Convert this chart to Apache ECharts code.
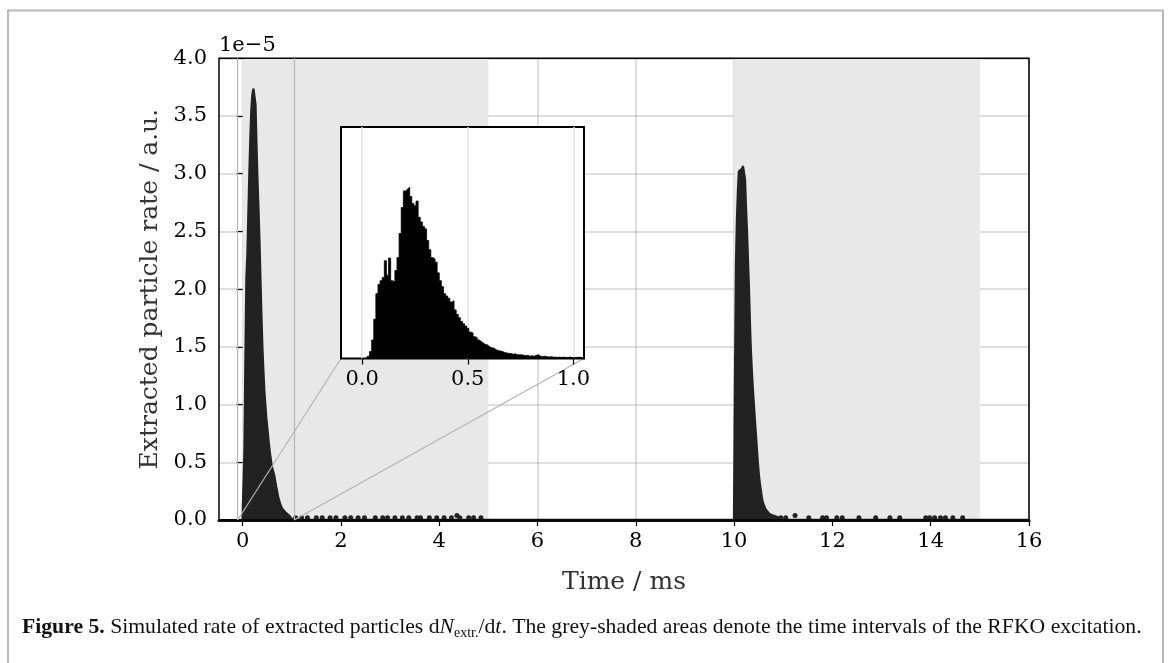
<!DOCTYPE html>
<html>
<head>
<meta charset="utf-8">
<script src="https://cdn.jsdelivr.net/npm/echarts@6/dist/echarts.min.js"></script>
<style>
html,body{margin:0;padding:0;background:#fff;}
#chart{width:1168px;height:663px;}
</style>
</head>
<body>
<div id="chart"></div>
<script>
// ---------------- DATA (rates in units of 1e-5, a.u.) ----------------
const xTickLabels = [0, 2, 4, 6, 8, 10, 12, 14, 16];
const yTickLabels = [0.0, 0.5, 1.0, 1.5, 2.0, 2.5, 3.0, 3.5, 4.0];
const insetTickLabels = [0.0, 0.5, 1.0];

// RFKO excitation intervals (ms)
const excitationStart = [0, 10];
const excitationEnd = [5, 15];

// first extraction pulse, main panel, bins of 0.02 ms starting at 0 ms
const pulse1Step = 0.02;
const pulse1Main = [0, 0, 0.6, 1.4, 2.1, 2.3, 2.65, 3.0, 3.3, 3.55, 3.68, 3.73, 3.72, 3.6, 3.25, 2.95,
  2.7, 2.43, 2.1, 1.78, 1.5, 1.3, 1.12, 1.0, 0.88, 0.8, 0.71, 0.63, 0.56, 0.5, 0.45, 0.42, 0.39,
  0.34, 0.29, 0.25, 0.2, 0.17, 0.14, 0.12, 0.1, 0.09, 0.08, 0.07, 0.06, 0.05, 0.05, 0.04, 0.03, 0.02, 0.02, 0];

// first extraction pulse as shown in the inset, bins of 0.01 ms starting at 0 ms
const insetStep = 0.01;
const pulse1Inset = [0, 0, 0, 0.05, 0.15, 0.4, 0.85, 1.4, 1.6, 1.68, 1.75, 2.11, 1.8, 2.17, 1.68, 1.65,
  1.9, 2.18, 2.7, 3.26, 3.62, 3.66, 3.7, 3.5, 3.35, 3.3, 3.4, 3.05, 2.95, 2.85, 2.8, 2.55, 2.35, 2.18,
  2.15, 2.08, 1.85, 1.68, 1.55, 1.4, 1.35, 1.3, 1.22, 1.25, 1.05, 0.95, 0.88, 0.8, 0.75, 0.7, 0.65,
  0.57, 0.55, 0.47, 0.45, 0.4, 0.36, 0.33, 0.3, 0.29, 0.25, 0.23, 0.22, 0.19, 0.17, 0.16, 0.15, 0.13,
  0.12, 0.11, 0.11, 0.09, 0.1, 0.08, 0.08, 0.08, 0.07, 0.06, 0.07, 0.05, 0.06, 0.05, 0.07, 0.08, 0.05,
  0.04, 0.05, 0.04, 0.03, 0.04, 0.03, 0.03, 0.02, 0.03, 0.02, 0.03, 0.02, 0.02, 0.03, 0.02, 0.02,
  0.02, 0.03, 0.02, 0.02, 0.02];

// second extraction pulse, bins of 0.02 ms starting at 10 ms
const pulse2Start = 10.0;
const pulse2Step = 0.02;
const pulse2 = [0, 1.2, 2.2, 2.6, 2.85, 3.02, 3.03, 3.02, 3.04, 3.06, 3.07, 2.95, 2.7, 2.5, 2.25, 2.0,
  1.7, 1.45, 1.28, 1.13, 1.0, 0.87, 0.75, 0.62, 0.5, 0.4, 0.32, 0.26, 0.2, 0.16, 0.13, 0.11, 0.09,
  0.08, 0.07, 0.06, 0.05, 0.05, 0.04, 0.04, 0.03, 0.03, 0.03, 0.02, 0.02, 0.02, 0];

// isolated late extraction events (single-bin counts) in the pulse tails
const tail1Times = [1.08, 1.2, 1.32, 1.5, 1.62, 1.78, 1.9, 2.08, 2.2, 2.35, 2.48, 2.7, 2.85, 2.95, 3.1,
  3.25, 3.38, 3.55, 3.62, 3.8, 3.95, 4.1, 4.25, 4.36, 4.42, 4.6, 4.7, 4.85];
const tail1Values = [0.02, 0.02, 0.02, 0.02, 0.02, 0.02, 0.02, 0.02, 0.02, 0.02, 0.02, 0.02, 0.02, 0.02,
  0.02, 0.02, 0.02, 0.02, 0.02, 0.02, 0.02, 0.02, 0.02, 0.04, 0.02, 0.02, 0.02, 0.02];
const tail2Times = [10.95, 11.05, 11.24, 11.52, 11.8, 11.88, 12.09, 12.2, 12.54, 12.88, 13.17, 13.37,
  13.9, 13.98, 14.08, 14.2, 14.3, 14.45, 14.65];
const tail2Values = [0.02, 0.02, 0.04, 0.02, 0.02, 0.02, 0.02, 0.02, 0.02, 0.02, 0.02, 0.02, 0.02,
  0.02, 0.02, 0.02, 0.02, 0.02, 0.02];

// axis limits
const xMin = -0.48, xMax = 16;
const yMin = 0, yMax = 4;
const insetXMin = -0.1, insetXMax = 1.05;
const insetYMin = 0, insetYMax = 5;

// ---------------- BUILD ----------------
const r2 = v => Math.round(v * 1000) / 1000;
const mainLine = [];
pulse1Main.forEach((v, i) => mainLine.push([r2(i * pulse1Step), v]));
pulse2.forEach((v, i) => mainLine.push([r2(pulse2Start + i * pulse2Step), v]));
mainLine.push([xMax, 0]);
const insetLine = pulse1Inset.map((v, i) => [r2(i * insetStep), v]);
const tailPts = tail1Times.map((t, i) => [t, tail1Values[i]])
  .concat(tail2Times.map((t, i) => [t, tail2Values[i]]));
const shadeAreas = excitationStart.map((s, i) => [{ xAxis: s }, { xAxis: excitationEnd[i] }]);

// layout
const W = 1168, H = 663;
const G = { left: 219, top: 58.3, width: 810, height: 461.7 };
const gx0 = G.left + (0 - xMin) / (xMax - xMin) * G.width;
const I = { left: 341, top: 127, width: 243, height: 231.5 };
const ix0 = I.left + (0 - insetXMin) / (insetXMax - insetXMin) * I.width;
const ix1 = I.left + (1 - insetXMin) / (insetXMax - insetXMin) * I.width;

const serif = 'DejaVu Serif';
const tickFont = 21;
const gridLineMain = { color: 'rgba(128,128,128,0.33)', width: 1.5 };

const option = {
  animation: false,
  grid: [
    { left: G.left, top: G.top, width: G.width, height: G.height, show: true, borderColor: '#000', borderWidth: 1.5, backgroundColor: 'transparent', z: 3 },
    { left: gx0, top: G.top, width: G.left + G.width - gx0, height: G.height, show: false },
    { left: I.left, top: I.top, width: I.width, height: I.height, show: true, borderColor: '#000', borderWidth: 2, backgroundColor: '#fff', z: 5 },
    { left: ix0, top: I.top, width: ix1 - ix0, height: I.height, show: false }
  ],
  xAxis: [
    { type: 'value', gridIndex: 0, min: xMin, max: xMax, z: 1,
      axisLine: { show: true, onZero: false, lineStyle: { color: '#111', width: 3 } },
      axisTick: { show: false }, axisLabel: { show: false }, splitLine: { show: false },
      name: 'Time / ms', nameLocation: 'middle', nameGap: 50,
      nameTextStyle: { color: '#333', fontFamily: serif, fontSize: 25 } },
    { type: 'value', gridIndex: 1, min: 0, max: 16, interval: 2, z: 1,
      axisLine: { show: false },
      axisTick: { show: true, length: 6, lineStyle: { color: '#000', width: 1.2 } },
      axisLabel: { show: true, color: '#000', fontFamily: serif, fontSize: tickFont, margin: 11,
        formatter: v => (xTickLabels.indexOf(v) >= 0 ? String(v) : '') },
      splitLine: { show: true, lineStyle: gridLineMain } },
    { type: 'value', gridIndex: 2, min: insetXMin, max: insetXMax, show: false },
    { type: 'value', gridIndex: 3, min: 0, max: 1, interval: 0.5, z: 6,
      axisLine: { show: false },
      axisTick: { show: true, length: 6, lineStyle: { color: '#000', width: 1.2 } },
      axisLabel: { show: true, color: '#000', fontFamily: serif, fontSize: tickFont, margin: 11,
        formatter: v => (insetTickLabels.indexOf(v) >= 0 ? v.toFixed(1) : '') },
      splitLine: { show: true, lineStyle: { color: '#e2e2e2', width: 1.5 } } }
  ],
  yAxis: [
    { type: 'value', gridIndex: 0, min: yMin, max: yMax, interval: 0.5, z: 1,
      axisLine: { show: false },
      axisTick: { show: true, length: 6, lineStyle: { color: '#000', width: 1.2 } },
      axisLabel: { show: true, color: '#000', fontFamily: serif, fontSize: tickFont, margin: 12,
        formatter: v => (yTickLabels.indexOf(v) >= 0 ? v.toFixed(1) : '') },
      splitLine: { show: true, lineStyle: gridLineMain },
      name: 'Extracted particle rate / a.u.', nameLocation: 'middle', nameGap: 50,
      nameTextStyle: { color: '#333', fontFamily: serif, fontSize: 25 } },
    { type: 'value', gridIndex: 1, min: yMin, max: yMax, show: false },
    { type: 'value', gridIndex: 2, min: insetYMin, max: insetYMax, show: false },
    { type: 'value', gridIndex: 3, min: insetYMin, max: insetYMax, show: false }
  ],
  series: [
    { type: 'line', xAxisIndex: 0, yAxisIndex: 0, data: [], z: 0, silent: true,
      markArea: { silent: true, itemStyle: { color: '#e8e8e8' }, data: shadeAreas } },
    { type: 'line', xAxisIndex: 0, yAxisIndex: 0, data: mainLine, z: 2, showSymbol: false,
      sampling: 'none', clip: true,
      lineStyle: { color: '#222', width: 2.5, join: 'round' },
      areaStyle: { color: '#222', opacity: 1 },
      markLine: { silent: true, symbol: 'none', label: { show: false },
        lineStyle: { color: '#b4b4b4', width: 1.2, type: 'solid' },
        data: [{ xAxis: insetXMin }, { xAxis: insetXMax }] } },
    { type: 'scatter', xAxisIndex: 0, yAxisIndex: 0, data: tailPts, z: 2,
      symbol: 'circle', symbolSize: 5, itemStyle: { color: '#222', opacity: 1 } },
    { type: 'line', xAxisIndex: 2, yAxisIndex: 2, data: insetLine, z: 7, showSymbol: false,
      sampling: 'none', clip: true, step: 'middle',
      lineStyle: { color: '#000', width: 0.8 },
      areaStyle: { color: '#000', opacity: 1 } }
  ],
  graphic: [
    { id: 'frame', type: 'rect', shape: { x: 8, y: 10.5, width: 1155, height: 700 },
      style: { fill: 'none', stroke: '#b8b8b8', lineWidth: 2 }, silent: true },
    { id: 'exp', type: 'text', x: G.left, y: 46,
      style: { text: '1e\u22125', fontFamily: serif, fontSize: tickFont, fill: '#000', verticalAlign: 'middle', align: 'left' } },
    { id: 'caption', type: 'text', x: 22, y: 627,
      style: {
        text: '{b|Figure 5.} Simulated rate of extracted particles d{i|N}{s|extr.}/d{i|t}. The grey-shaded areas denote the time intervals of the RFKO excitation.',
        fontFamily: 'Liberation Serif', fontSize: 21.7, fill: '#111', verticalAlign: 'middle', lineHeight: 26,
        rich: {
          b: { fontWeight: 'bold', fontFamily: 'Liberation Serif', fontSize: 21.7, fill: '#111', lineHeight: 26 },
          i: { fontStyle: 'italic', fontFamily: 'Liberation Serif', fontSize: 21.7, fill: '#111', lineHeight: 26 },
          s: { fontFamily: 'Liberation Serif', fontSize: 14, fill: '#111', verticalAlign: 'bottom', lineHeight: 26 }
        }
      } }
  ]
};

const chart = echarts.init(document.getElementById('chart'), null, { renderer: 'canvas', width: W, height: H });
chart.setOption(option);

// zoom-indicator connectors from the main panel to the inset corners
const a0 = chart.convertToPixel({ xAxisIndex: 0, yAxisIndex: 0 }, [insetXMin, 0]);
const a1 = chart.convertToPixel({ xAxisIndex: 0, yAxisIndex: 0 }, [insetXMax, 0]);
const b0 = chart.convertToPixel({ xAxisIndex: 2, yAxisIndex: 2 }, [insetXMin, insetYMin]);
const b1 = chart.convertToPixel({ xAxisIndex: 2, yAxisIndex: 2 }, [insetXMax, insetYMin]);
chart.setOption({
  graphic: [
    { id: 'c0', type: 'line', z: 4, silent: true, shape: { x1: a0[0], y1: a0[1], x2: b0[0], y2: b0[1] },
      style: { stroke: '#b4b4b4', lineWidth: 1.2 } },
    { id: 'c1', type: 'line', z: 4, silent: true, shape: { x1: a1[0], y1: a1[1], x2: b1[0], y2: b1[1] },
      style: { stroke: '#b4b4b4', lineWidth: 1.2 } }
  ]
});
</script>
</body>
</html>
